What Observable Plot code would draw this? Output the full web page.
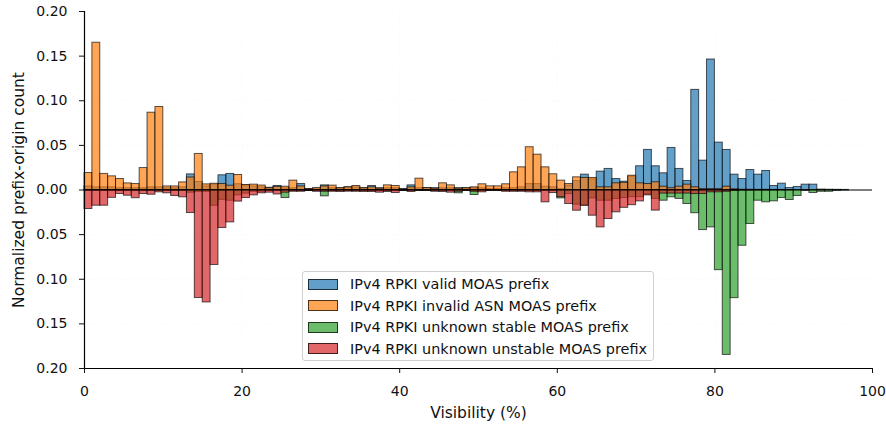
<!DOCTYPE html>
<html>
<head>
<meta charset="utf-8">
<script src="https://cdn.jsdelivr.net/npm/d3@7"></script>
<script src="https://cdn.jsdelivr.net/npm/@observablehq/plot@0.6"></script>
<style>
  html, body { margin: 0; padding: 0; background: #fff; }
  #wrap { position: relative; width: 886px; height: 426px; font-family: "DejaVu Sans", sans-serif; }
  #wrap svg g[aria-label="x-axis label"], #wrap svg g[aria-label="y-axis label"] { font-size: 15.5px; }
  #wrap svg g[aria-label="x-axis label"] text, #wrap svg g[aria-label="y-axis label"] text { font-size: 15.5px; }
  #legend { position: absolute; left: 302px; top: 271px; width: 352px; height: 90px; border: 1px solid #d0d0d0; border-radius: 3px; background: rgba(255,255,255,0.8); box-sizing: border-box; }
  .item { position: absolute; left: 5px; height: 16px; display: flex; align-items: center; font-size: 14.4px; color: #111; white-space: nowrap; }
  .sw { width: 30px; height: 11px; margin-right: 12px; box-sizing: border-box; border: 1px solid rgba(0,0,0,0.7); }
</style>
</head>
<body>
<div id="wrap"></div>
<script>
// Bin starts (1% wide bins over 0..100 visibility)
const binStarts = d3.range(0, 100);

const seriesNames = [
  "IPv4 RPKI valid MOAS prefix",
  "IPv4 RPKI invalid ASN MOAS prefix",
  "IPv4 RPKI unknown stable MOAS prefix",
  "IPv4 RPKI unknown unstable MOAS prefix"
];
const seriesColors = ["#1f77b4", "#ff7f0e", "#2ca02c", "#d62728"];

const validMOAS = [
  0.004,0.003,0.003,0.003,0.002,0.002,0.002,0.002,0.003,0.003,
  0.002,0.002,0.003,0.0175,0.009,0.004,0.006,0.0165,0.018,0.0065,
  0.005,0.004,0.003,0.0025,0.0045,0.002,0.002,0.0067,0.001,0.001,
  0.0052,0.002,0.002,0.003,0.003,0.002,0.0045,0.002,0.002,0.002,
  0.001,0.0052,0.002,0.002,0.002,0.002,0.002,0.002,0.002,0.002,
  0.002,0.001,0.001,0.002,0.002,0.003,0.0067,0.0067,0.0037,0.003,
  0.001,0.005,0.010,0.0172,0.012,0.0206,0.0236,0.0123,0.0093,0.015,
  0.0266,0.0449,0.0266,0.0187,0.0471,0.0236,0.0101,0.1122,0.0329,0.1462,
  0.0531,0.0449,0.0172,0.0123,0.0224,0.0172,0.0213,0.0045,0.0071,0.0022,
  0.0034,0.006,0.006,0.0005,0.0003,0.0002,0.0001,0,0,0
];

const invalidASN = [
  0.019,0.165,0.018,0.0153,0.0123,0.0074,0.0067,0.0246,0.0866,0.093,
  0.004,0.004,0.0085,0.014,0.0404,0.0063,0.007,0.0067,0.0048,0.0168,
  0.0056,0.006,0.005,0.002,0.0035,0.0037,0.0105,0.004,0.001,0.0022,
  0.004,0.0049,0.002,0.003,0.0045,0.002,0.003,0.0015,0.0052,0.0045,
  0.0005,0.003,0.0127,0.0022,0.0015,0.0075,0.0052,0.0015,0.002,0.003,
  0.0064,0.0041,0.0041,0.0064,0.0198,0.0254,0.0479,0.0396,0.0254,0.0176,
  0.0105,0.0067,0.0142,0.0135,0.0135,0.003,0.003,0.0075,0.008,0.016,
  0.0075,0.0067,0.0086,0.0037,0.002,0.0037,0.006,0.003,0.001,0.001,
  0.001,0.0037,0.0008,0.0003,0.0003,0.0002,0.0002,0.0001,0.0001,0,
  0,0,0,0,0,0,0,0,0,0
];

const unknownStable = [
  0.001,0.001,0.001,0.001,0.001,0.001,0.001,0.001,0.001,0.001,
  0.001,0.001,0.001,0.003,0.002,0.002,0.0176,0.011,0.012,0.006,
  0.004,0.002,0.002,0.001,0.001,0.009,0.001,0.001,0.001,0.001,
  0.0071,0.001,0.001,0.001,0.001,0.001,0.001,0.001,0.001,0.001,
  0.001,0.001,0.001,0.001,0.001,0.001,0.001,0.0037,0.001,0.0056,
  0.001,0.001,0.001,0.001,0.001,0.001,0.001,0.001,0.001,0.001,
  0.0094,0.0045,0.0164,0.0175,0.0094,0.012,0.012,0.010,0.009,0.008,
  0.008,0.005,0.010,0.012,0.0082,0.010,0.0157,0.026,0.0449,0.0419,
  0.0898,0.1848,0.1212,0.0625,0.0381,0.012,0.0138,0.0127,0.009,0.0112,
  0.0067,0.001,0.0034,0.002,0.002,0.001,0.0005,0,0,0
];

const unknownUnstable = [
  0.0213,0.0176,0.0176,0.0088,0.0045,0.0064,0.0092,0.0045,0.0053,0.0026,
  0.0037,0.0067,0.0082,0.0258,0.121,0.126,0.084,0.0426,0.0363,0.013,
  0.009,0.006,0.0037,0.003,0.005,0.003,0.002,0.002,0.001,0.002,
  0.002,0.002,0.0022,0.0019,0.002,0.0022,0.0022,0.003,0.0022,0.0034,
  0.001,0.0022,0.001,0.001,0.002,0.0022,0.003,0.002,0.001,0.002,
  0.0026,0.001,0.001,0.002,0.002,0.002,0.0026,0.0026,0.0138,0.0034,
  0.008,0.0157,0.0232,0.0176,0.0288,0.0419,0.0325,0.025,0.020,0.017,
  0.0128,0.006,0.0231,0.004,0.004,0.004,0.004,0.0045,0.0045,0.0026,
  0.0026,0.002,0.001,0.0005,0.0005,0.0003,0.0003,0.0002,0.0002,0.0001,
  0,0,0,0,0,0,0,0,0,0
];

const yTicks = [-0.2, -0.15, -0.1, -0.05, 0, 0.05, 0.1, 0.15, 0.2];
const xTicks = [0, 20, 40, 60, 80, 100];

// Build rows: positive side for valid/invalid, negative side for unknown
function rows(values, sign, name) {
  return binStarts.map((b, i) => ({x1: b, x2: b + 1, v: sign * values[i], name}))
                  .filter(d => d.v !== 0);
}
const seriesRows = [
  rows(validMOAS, 1, seriesNames[0]),
  rows(invalidASN, 1, seriesNames[1]),
  rows(unknownStable, -1, seriesNames[2]),
  rows(unknownUnstable, -1, seriesNames[3])
];

const gridStyle = {stroke: "#b0b0b0", strokeWidth: 1, strokeDasharray: "1.2,2.4"};

const barMarks = seriesRows.map((data, k) =>
  Plot.rectY(data, {
    x1: "x1", x2: "x2", y1: 0, y2: "v",
    fill: seriesColors[k], fillOpacity: 0.7,
    stroke: "black", strokeOpacity: 0.65, strokeWidth: 1
  })
);

const chart = Plot.plot({
  width: 886,
  height: 426,
  marginLeft: 84,
  marginRight: 14,
  marginTop: 11,
  marginBottom: 58,
  style: {fontFamily: "DejaVu Sans, sans-serif", fontSize: "14px", color: "#111", background: "white"},
  x: {domain: [0, 100]},
  y: {domain: [-0.2, 0.2]},
  marks: [
    Plot.gridX(xTicks.slice(1, -1), gridStyle),
    Plot.gridY(yTicks.slice(1, -1), gridStyle),
    ...barMarks,
    Plot.ruleY([0], {stroke: "black", strokeWidth: 1.2}),
    Plot.ruleX([0], {stroke: "black", strokeWidth: 1.2}),
    Plot.ruleY([-0.2], {stroke: "black", strokeWidth: 1.2}),
    Plot.axisY(yTicks, {
      tickFormat: d => Math.abs(d).toFixed(2),
      tickSize: 5, tickPadding: 12, fontSize: 14,
      label: "Normalized prefix-origin count", labelAnchor: "center",
      labelArrow: "none", labelOffset: 72
    }),
    Plot.axisX(xTicks, {
      tickFormat: d => String(d),
      tickSize: 5, tickPadding: 13, fontSize: 14,
      label: "Visibility (%)", labelAnchor: "center",
      labelArrow: "none", labelOffset: 49
    })
  ]
});

const wrap = document.getElementById("wrap");
wrap.appendChild(chart);

// Legend (matplotlib-style box inside plot area)
const legend = document.createElement("div");
legend.id = "legend";
seriesNames.forEach((name, k) => {
  const it = document.createElement("div");
  it.className = "item";
  it.style.top = (4 + k * 21.5) + "px";
  const sw = document.createElement("span");
  sw.className = "sw";
  const c = d3.color(seriesColors[k]); c.opacity = 0.7;
  sw.style.background = c.formatRgb();
  const tx = document.createElement("span");
  tx.textContent = name;
  it.appendChild(sw); it.appendChild(tx);
  legend.appendChild(it);
});
wrap.appendChild(legend);
</script>
</body>
</html>
